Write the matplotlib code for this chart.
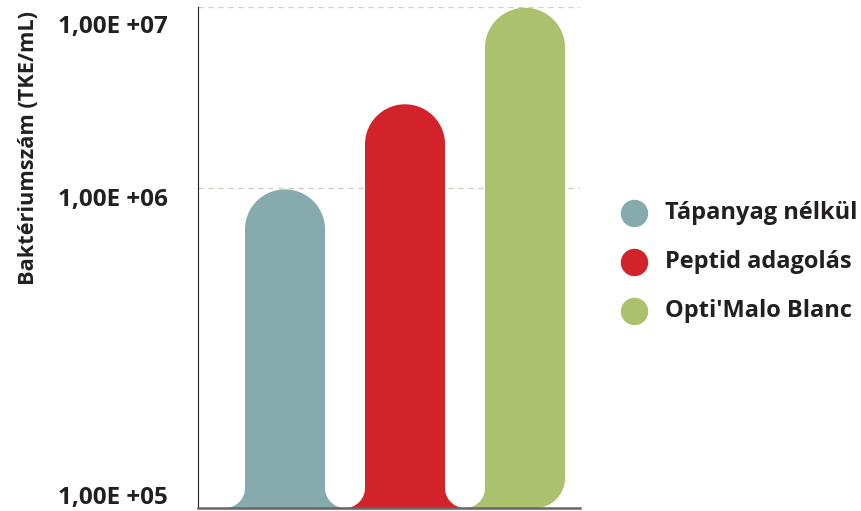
import matplotlib
matplotlib.use("Agg")
import matplotlib.pyplot as plt
import numpy as np
from matplotlib.path import Path
from matplotlib.patches import PathPatch
from matplotlib.transforms import IdentityTransform, offset_copy

plt.rcParams['font.family'] = ['Open Sans', 'DejaVu Sans']

# data
categories = ["Tápanyag nélkül", "Peptid adagolás", "Opti'Malo Blanc"]
values = [9.9e5, 2.9e6, 9.9e6]
colors = ["#87aaad", "#d2232a", "#abc16e"]
tick_values = [1e5, 1e6, 1e7]
tick_labels = ["1,00E +05", "1,00E +06", "1,00E +07"]
ylabel = "Baktériumszám (TKE/mL)"

text_col = "#231f20"

# the original stretches the lower decade (1e5..1e6) compared to the upper one
k = 320 / 181.0

def fwd(y):
    t = np.log10(np.clip(y, 1e-10, None))
    return np.where(t < 6, 6 + (t - 6) * k, t)

def inv(u):
    u = np.asarray(u, dtype=float)
    return 10 ** np.where(u < 6, 6 + (u - 6) / k, u)

W, H = 862, 511
fig = plt.figure(figsize=(W / 100, H / 100), dpi=100)
ax = fig.add_axes([198 / W, 3 / H, (580 - 198) / W, (508 - 7) / H])
ax.set_yscale('function', functions=(fwd, inv))
ax.set_ylim(1e5, 1e7)
ax.set_xlim(-0.725, 2.458)

x = np.arange(len(categories))
bar_w = 0.667

# grid
for v in tick_values[1:]:
    ax.axhline(v, color="#c9cbbd", lw=0.9, ls=(0, (4, 4)), zorder=1)

ax.set_yticks(tick_values)
ax.set_yticklabels([])
ax.tick_params(axis='y', length=0)
ax.set_xticks([])

# tick labels sit a little off their lines, as in the original
offsets = [-2, 0, -8]
valign = ['bottom', 'top', 'top']
for v, lab, dy, va in zip(tick_values, tick_labels, offsets, valign):
    trans = offset_copy(ax.get_yaxis_transform(), fig=fig, x=-30, y=dy, units='dots')
    ax.text(0, v, lab, transform=trans, ha='right', va=va, fontsize=17.5,
            fontweight='bold', color=text_col, clip_on=False)

for s in ['top', 'right']:
    ax.spines[s].set_visible(False)
ax.spines['left'].set_color('#222222')
ax.spines['left'].set_linewidth(0.8)
ax.spines['bottom'].set_color('#666666')
ax.spines['bottom'].set_linewidth(1.8)
ax.spines['bottom'].set_zorder(5)


def arc(cx, cy, r, a0, a1, n=40):
    a = np.radians(np.linspace(a0, a1, n))
    return list(zip(cx + r * np.cos(a), cy + r * np.sin(a)))


fig.canvas.draw()
tr = ax.transData
base = tr.transform((0, 1e5))[1]
r = 20
rc = 30
for i, (xi, v, c) in enumerate(zip(x, values, colors)):
    L = tr.transform((xi - bar_w / 2, v))[0]
    R = tr.transform((xi + bar_w / 2, v))[0]
    T = tr.transform((xi, v))[1]
    hw = (R - L) / 2
    pts = []
    pts += arc(L - r, base + r, r, -90, 0)
    pts += arc(L + hw, T - hw, hw, 180, 0, 80)
    if i < len(values) - 1:
        pts += arc(R + r, base + r, r, 180, 270)
    else:
        pts += arc(R - rc, base + rc, rc, 0, -90)
    pts.append(pts[0])
    codes = [Path.MOVETO] + [Path.LINETO] * (len(pts) - 2) + [Path.CLOSEPOLY]
    patch = PathPatch(Path(pts, codes), facecolor=c, edgecolor='none',
                      transform=IdentityTransform(), zorder=3, clip_on=False)
    ax.add_artist(patch)

fig.text(29 / W, 1 - 148 / H, ylabel, rotation=90, ha='center', va='center',
         fontsize=15.7, fontweight='bold', color=text_col)

# legend
for j, (lab, c) in enumerate(zip(categories, colors)):
    yy = 1 - (213 + 49 * j) / H
    ax.scatter([634 / W], [yy], s=390, color=c, transform=fig.transFigure,
               clip_on=False, linewidths=0)
    fig.text(665 / W, yy, lab, ha='left', va='center', fontsize=17,
             fontweight='bold', color=text_col)

fig.savefig("out.png", dpi=100)
